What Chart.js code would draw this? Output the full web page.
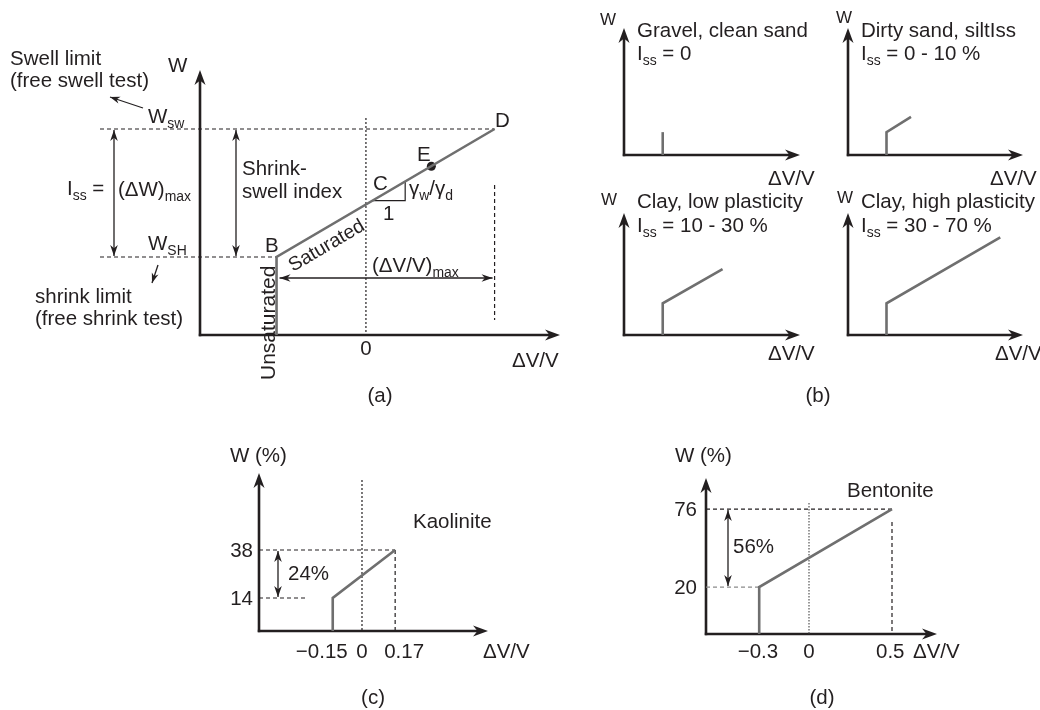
<!DOCTYPE html>
<html>
<head>
<meta charset="utf-8">
<script src="https://cdn.jsdelivr.net/npm/chart.js@4.4.1/dist/chart.umd.min.js"></script>
<style>
  html, body { margin: 0; background: #fff; }
  #wrap { position: relative; width: 1040px; height: 710px; }
  #wrap canvas { position: absolute; left: 0; top: 0; }
</style>
</head>
<body>
<div id="wrap">
  <canvas id="ca" width="1040" height="710"></canvas>
  <canvas id="cb1" width="1040" height="710"></canvas>
  <canvas id="cb2" width="1040" height="710"></canvas>
  <canvas id="cb3" width="1040" height="710"></canvas>
  <canvas id="cb4" width="1040" height="710"></canvas>
  <canvas id="cc" width="1040" height="710"></canvas>
  <canvas id="cd" width="1040" height="710"></canvas>
</div>
<script>
// ─── Datos ────────────────────────────────────────────────────
// (a) curva esquemática W vs ΔV/V
const aWmin  = 0.5;                  // W en el eje horizontal
const aDV    = [-0.41, -0.41, 0.59]; // B (base), B, D
const aW     = [aWmin, 20, 52];
const aWsh   = 20;                   // límite de contracción
const aWsw   = 52;                   // límite de hinchamiento
const aE     = [0.30, 42.7];         // punto E
const aSlopeDV = [0.03, 0.18, 0.18]; // triángulo de pendiente
const aSlopeW  = [34.1, 34.1, 38.9];

// (b) cuatro tipos de suelo (esquema, unidades arbitrarias)
const bTitles = ["Gravel, clean sand", "Dirty sand, siltIss", "Clay, low plasticity", "Clay, high plasticity"];
const bIss    = [" = 0", " = 0 - 10 %", " = 10 - 30 %", " = 30 - 70 %"];
const bDV = [[2.2, 2.2], [2.2, 2.2, 3.6], [2.2, 2.2, 5.6], [2.2, 2.2, 8.7]];
const bW  = [[0, 1.8],   [0, 1.8, 3.0],   [0, 2.6, 5.4],   [0, 2.6, 8.0]];

// (c) caolinita
const cWmin  = -2.5;
const cDV    = [-0.15, -0.15, 0.17];
const cW     = [cWmin, 14, 38];
const cXTicks = ["\u22120.15", "0", "0.17"];
const cYTicks = ["14", "38"];

// (d) bentonita
const dWmin  = -13.7;
const dDV    = [-0.3, -0.3, 0.5];
const dW     = [dWmin, 20, 76];
const dXTicks = ["\u22120.3", "0", "0.5"];
const dYTicks = ["20", "76"];

// ─── Estilo ───────────────────────────────────────────────────
const FONT = '"Liberation Sans", Arial, Helvetica, sans-serif';
const INK  = "#231f20";
const CURVE = "#6f6f6f";

// ─── Helpers de dibujo ────────────────────────────────────────
function rich(ctx, parts, x, y, size, align) {
  size = size || 20.5;
  const sub = size * 0.68;
  let w = 0;
  parts.forEach(p => {
    ctx.font = (p[1] ? sub : size) + "px " + FONT;
    w += ctx.measureText(p[0]).width;
  });
  let cx = align === "center" ? x - w / 2 : align === "right" ? x - w : x;
  ctx.fillStyle = INK;
  ctx.textAlign = "left";
  ctx.textBaseline = "alphabetic";
  parts.forEach(p => {
    ctx.font = (p[1] ? sub : size) + "px " + FONT;
    ctx.fillText(p[0], cx, p[1] ? y + size * 0.25 : y);
    cx += ctx.measureText(p[0]).width;
  });
}
function txt(ctx, s, x, y, size, align) { rich(ctx, [[s]], x, y, size, align); }

function seg(ctx, x1, y1, x2, y2, dash, width, color) {
  ctx.save();
  ctx.strokeStyle = color || INK;
  ctx.lineWidth = width || 1.2;
  ctx.setLineDash(dash || []);
  ctx.beginPath(); ctx.moveTo(x1, y1); ctx.lineTo(x2, y2); ctx.stroke();
  ctx.restore();
}
function head(ctx, x, y, ang, len, w) {
  ctx.save();
  ctx.translate(x, y); ctx.rotate(ang);
  ctx.fillStyle = INK;
  ctx.beginPath();
  ctx.moveTo(0, 0); ctx.lineTo(-len, -w); ctx.lineTo(-len * 0.7, 0); ctx.lineTo(-len, w);
  ctx.closePath(); ctx.fill();
  ctx.restore();
}
function arrow(ctx, x1, y1, x2, y2, width) {
  seg(ctx, x1, y1, x2, y2, null, width || 1.3);
  head(ctx, x2, y2, Math.atan2(y2 - y1, x2 - x1), 10, 3.5);
}
function dbl(ctx, x1, y1, x2, y2) {
  seg(ctx, x1, y1, x2, y2, null, 1.3);
  const a = Math.atan2(y2 - y1, x2 - x1);
  head(ctx, x2, y2, a, 11, 3.8);
  head(ctx, x1, y1, a + Math.PI, 11, 3.8);
}
function axes(c) {
  const ctx = c.ctx, ca = c.chartArea;
  seg(ctx, ca.left, ca.bottom + 1.2, ca.left, ca.top + 6, null, 2.6);
  seg(ctx, ca.left - 1.2, ca.bottom, ca.right - 6, ca.bottom, null, 2.6);
  head(ctx, ca.left, ca.top, -Math.PI / 2, 15, 5.5);
  head(ctx, ca.right, ca.bottom, 0, 15, 5.5);
}

// ─── Fábrica de gráficos ──────────────────────────────────────
function makeChart(id, box, xr, yr, datasets, deco) {
  return new Chart(document.getElementById(id), {
    type: "scatter",
    data: { datasets },
    options: {
      responsive: false,
      animation: false,
      events: [],
      layout: { autoPadding: false, padding: { left: box.l, top: box.t, right: 1040 - box.r, bottom: 710 - box.b } },
      plugins: { legend: { display: false }, tooltip: { enabled: false } },
      scales: {
        x: { type: "linear", display: false, min: xr[0], max: xr[1] },
        y: { type: "linear", display: false, min: yr[0], max: yr[1] }
      }
    },
    plugins: [{
      id: "deco",
      beforeDatasetsDraw: c => { axes(c); if (deco.under) deco.under(c); },
      afterDatasetsDraw: c => deco.over(c)
    }]
  });
}
function curve(xs, ys, color, width) {
  return {
    data: xs.map((x, i) => ({ x, y: ys[i] })),
    showLine: true, borderColor: color || CURVE, borderWidth: width || 2.6,
    pointRadius: 0, clip: false, tension: 0, borderJoinStyle: "miter"
  };
}

// ─── (a) ──────────────────────────────────────────────────────
makeChart("ca", { l: 200, t: 70, r: 560, b: 335 }, [-0.761, 0.89], [aWmin, 66.75], [
  curve(aDV, aW),
  curve(aSlopeDV, aSlopeW, INK, 1.2),
  { data: [{ x: aE[0], y: aE[1] }], pointRadius: 4.5, pointBackgroundColor: INK, pointBorderWidth: 0, clip: false }
], {
  under: c => {
    const ctx = c.ctx, X = v => c.scales.x.getPixelForValue(v), Y = v => c.scales.y.getPixelForValue(v);
    const ySw = Y(aWsw), ySh = Y(aWsh), xB = X(aDV[0]), xD = X(aDV[2]), x0 = X(0);
    seg(ctx, 100, ySw, xD, ySw, [4, 3]);
    seg(ctx, 100, ySh, xB, ySh, [4, 3]);
    seg(ctx, x0, 118, x0, c.chartArea.bottom, [2, 2]);
    seg(ctx, xD, 185, xD, 320, [4, 3]);
  },
  over: c => {
    const ctx = c.ctx, X = v => c.scales.x.getPixelForValue(v), Y = v => c.scales.y.getPixelForValue(v);
    const ySw = Y(aWsw), ySh = Y(aWsh), xB = X(aDV[0]), xD = X(aDV[2]);
    dbl(ctx, 114, ySw + 1, 114, ySh - 1);
    dbl(ctx, 236, ySw + 1, 236, ySh - 1);
    dbl(ctx, xB + 3, 278, xD - 2, 278);
    arrow(ctx, 143, 108, 110, 97);
    arrow(ctx, 158, 265, 152, 283);

    txt(ctx, "Swell limit", 10, 65);
    txt(ctx, "(free swell test)", 10, 87);
    txt(ctx, "W", 168, 72);
    rich(ctx, [["W"], ["sw", 1]], 148, 123);
    rich(ctx, [["I"], ["ss", 1], [" = "]], 67, 195);
    rich(ctx, [["(\u0394W)"], ["max", 1]], 118, 196);
    txt(ctx, "Shrink-", 242, 175);
    txt(ctx, "swell index", 242, 198);
    rich(ctx, [["W"], ["SH", 1]], 148, 250);
    txt(ctx, "B", 265, 252);
    txt(ctx, "shrink limit", 35, 303);
    txt(ctx, "(free shrink test)", 35, 325);
    txt(ctx, "C", 373, 190);
    txt(ctx, "E", 417, 161);
    txt(ctx, "D", 495, 127);
    rich(ctx, [["\u03b3"], ["w", 1], ["/\u03b3"], ["d", 1]], 409, 195);
    txt(ctx, "1", 383, 220);
    rich(ctx, [["(\u0394V/V)"], ["max", 1]], 372, 272);
    txt(ctx, "0", X(0), 355, 20.5, "center");
    txt(ctx, "\u0394V/V", 512, 367);
    txt(ctx, "(a)", 380, 402, 20.5, "center");

    // textos girados
    ctx.save();
    ctx.translate(275, 380); ctx.rotate(-Math.PI / 2);
    txt(ctx, "Unsaturated", 0, 0, 21);
    ctx.restore();
    const ang = Math.atan2(Y(aW[2]) - Y(aW[1]), xD - xB);
    ctx.save();
    ctx.translate(293, 272); ctx.rotate(ang);
    txt(ctx, "Saturated", 0, 0, 19.5);
    ctx.restore();
  }
});

// ─── (b) ──────────────────────────────────────────────────────
const bBoxes = [
  { l: 624, t: 28,  r: 800,  b: 155 },
  { l: 848, t: 28,  r: 1023, b: 155 },
  { l: 624, t: 213, r: 800,  b: 335 },
  { l: 848, t: 213, r: 1023, b: 335 }
];
const bWLabel = [[600, 25], [836, 23], [601, 205], [837, 203]];
const bDVLabel = [[768, 185], [990, 185], [768, 360], [995, 360]];
["cb1", "cb2", "cb3", "cb4"].forEach((id, i) => {
  const box = bBoxes[i];
  makeChart(id, box, [0, 10], [0, 10], [curve(bDV[i], bW[i])], {
    over: c => {
      const ctx = c.ctx;
      txt(ctx, "W", bWLabel[i][0], bWLabel[i][1], 17);
      txt(ctx, bTitles[i], box.l + 13, box.t - (i < 2 ? -9 : 5));
      rich(ctx, [["I"], ["ss", 1], [bIss[i]]], box.l + 13, box.t + (i < 2 ? 32 : 19));
      txt(ctx, "\u0394V/V", bDVLabel[i][0], bDVLabel[i][1]);
      if (i === 3) txt(ctx, "(b)", 818, 402, 20.5, "center");
    }
  });
});

// ─── (c) ──────────────────────────────────────────────────────
makeChart("cc", { l: 259, t: 473, r: 488, b: 631 }, [-0.528, 0.646], [cWmin, 76.5], [curve(cDV, cW)], {
  under: c => {
    const ctx = c.ctx, X = v => c.scales.x.getPixelForValue(v), Y = v => c.scales.y.getPixelForValue(v);
    const ca = c.chartArea, yT = Y(cW[2]), yB = Y(cW[1]), xR = X(cDV[2]);
    seg(ctx, ca.left, yT, xR, yT, [4, 3]);
    seg(ctx, ca.left, yB, ca.left + 48, yB, [4, 3]);
    seg(ctx, X(0), 480, X(0), ca.bottom, [2, 2]);
    seg(ctx, xR, yT, xR, ca.bottom, [4, 3]);
  },
  over: c => {
    const ctx = c.ctx, X = v => c.scales.x.getPixelForValue(v), Y = v => c.scales.y.getPixelForValue(v);
    const yT = Y(cW[2]), yB = Y(cW[1]);
    dbl(ctx, 278, yT + 1, 278, yB - 1);
    txt(ctx, "W (%)", 230, 462);
    txt(ctx, cYTicks[1], 253, yT + 7, 20.5, "right");
    txt(ctx, cYTicks[0], 253, yB + 7, 20.5, "right");
    txt(ctx, "24%", 288, 580);
    txt(ctx, "Kaolinite", 413, 528);
    txt(ctx, cXTicks[0], X(cDV[0]) + 15, 658, 20.5, "right");
    txt(ctx, cXTicks[1], X(0), 658, 20.5, "center");
    txt(ctx, cXTicks[2], X(cDV[2]) - 11, 658);
    txt(ctx, "\u0394V/V", 483, 658);
    txt(ctx, "(c)", 373, 704, 20.5, "center");
  }
});

// ─── (d) ──────────────────────────────────────────────────────
makeChart("cd", { l: 706, t: 478, r: 937, b: 634 }, [-0.6205, 0.7711], [dWmin, 98.3], [curve(dDV, dW)], {
  under: c => {
    const ctx = c.ctx, X = v => c.scales.x.getPixelForValue(v), Y = v => c.scales.y.getPixelForValue(v);
    const ca = c.chartArea, yT = Y(dW[2]), yB = Y(dW[1]), xR = X(dDV[2]), xL = X(dDV[0]);
    seg(ctx, ca.left, yT, xR, yT, [4, 3]);
    seg(ctx, ca.left, yB, xL, yB, [4, 3], 1.2, "#8a8a8a");
    seg(ctx, X(0), 503, X(0), ca.bottom, [1.5, 1.5], 1.2, "#555");
    seg(ctx, xR, 522, xR, ca.bottom, [4, 3]);
  },
  over: c => {
    const ctx = c.ctx, X = v => c.scales.x.getPixelForValue(v), Y = v => c.scales.y.getPixelForValue(v);
    const yT = Y(dW[2]), yB = Y(dW[1]);
    dbl(ctx, 728, yT + 1, 728, yB - 1);
    txt(ctx, "W (%)", 675, 462);
    txt(ctx, dYTicks[1], 697, yT + 7, 20.5, "right");
    txt(ctx, dYTicks[0], 697, yB + 7, 20.5, "right");
    txt(ctx, "56%", 733, 553);
    txt(ctx, "Bentonite", 847, 497);
    txt(ctx, dXTicks[0], X(dDV[0]) + 19, 658, 20.5, "right");
    txt(ctx, dXTicks[1], X(0), 658, 20.5, "center");
    txt(ctx, dXTicks[2], X(dDV[2]) - 16, 658);
    txt(ctx, "\u0394V/V", 913, 658);
    txt(ctx, "(d)", 822, 704, 20.5, "center");
  }
});
</script>
</body>
</html>
